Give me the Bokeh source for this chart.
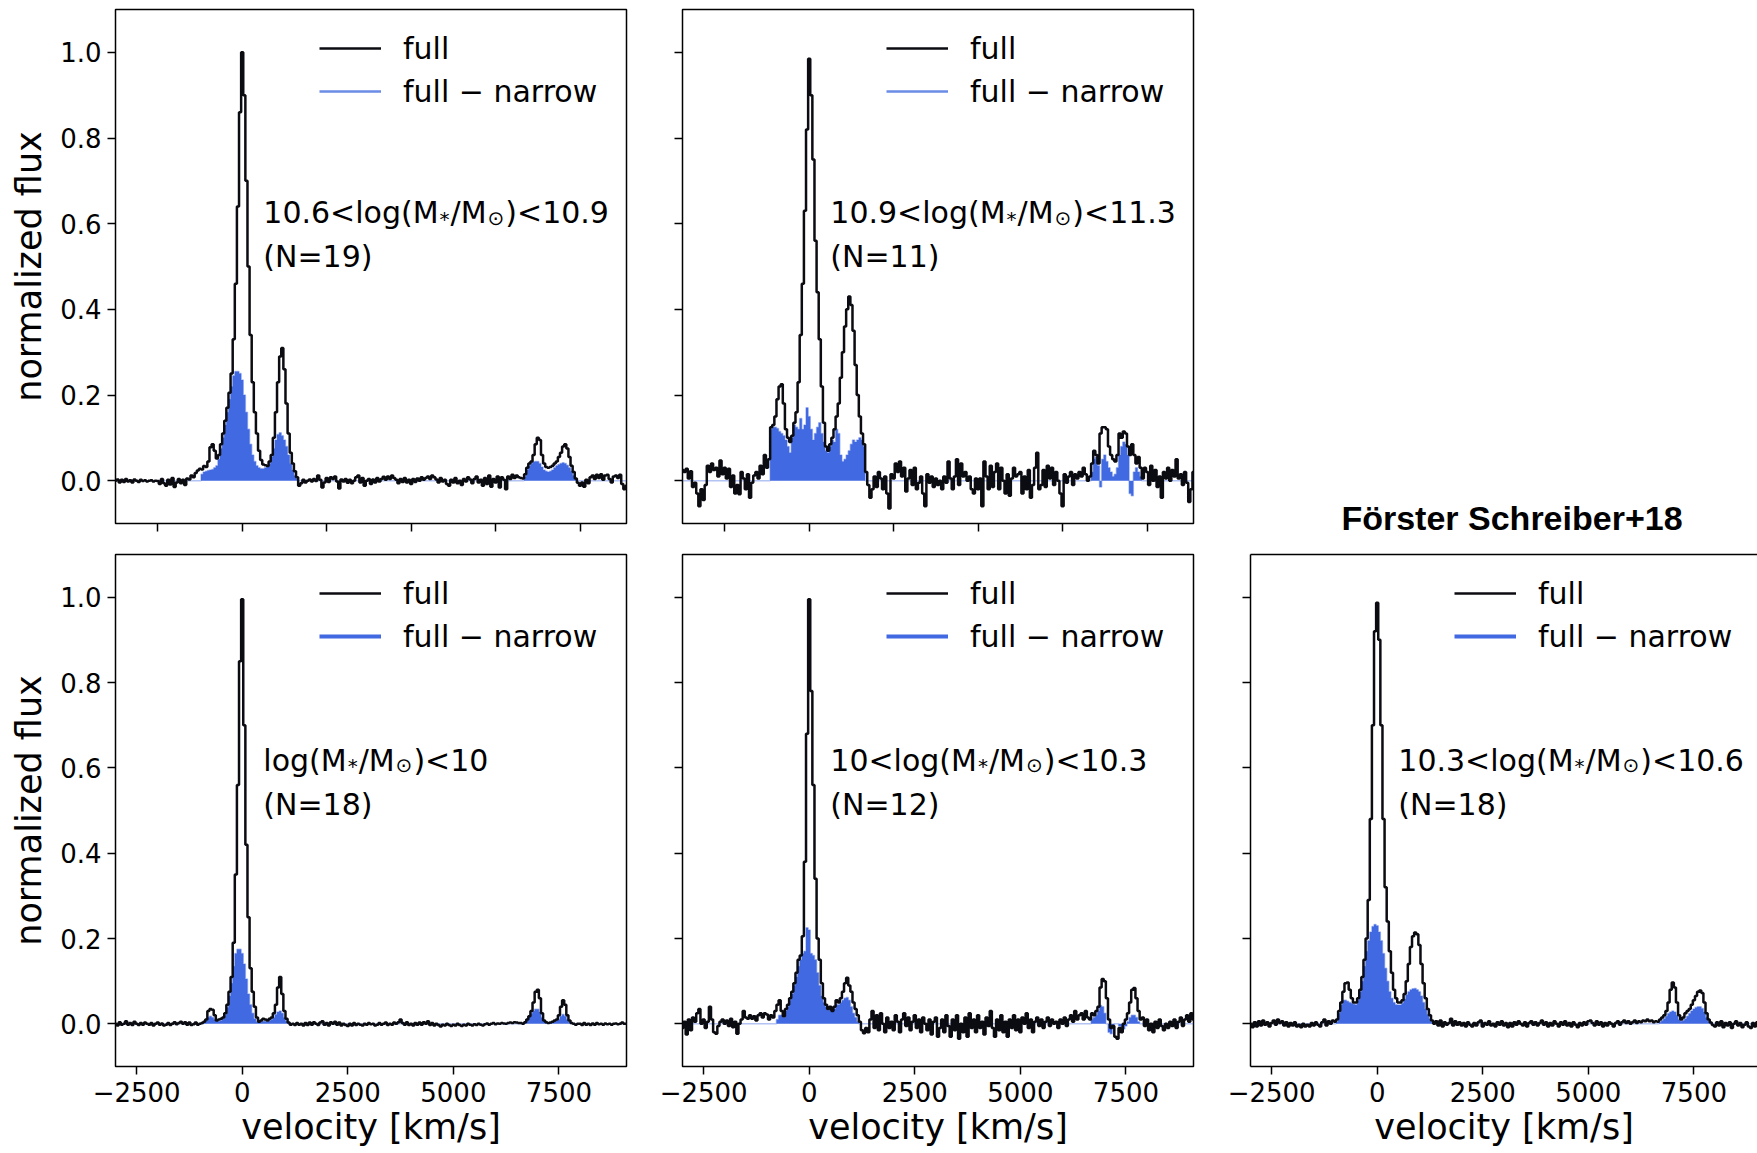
from bokeh.plotting import figure
from bokeh.models import (Range1d, FixedTicker, PrintfTickFormatter, CustomJSTickFormatter,
                          Legend, LegendItem, LinearAxis, Div, ColumnDataSource)
from bokeh.layouts import column, row
from bokeh.embed import file_html
from bokeh.resources import INLINE
from bokeh.core.properties import value

# ---------------- data ----------------
VELOCITY = list(range(-3000, 9101, 50))          # km/s, 243 bins
MAIN_START = -950                                  # first bin of the Halpha+[NII] window
FAR_START = 6650                                   # first bin of the [SII] window

XTICKS_TOP = [-2000, 0, 2000, 4000, 6000, 8000]
XTICKS_BOTTOM = [-2500, 0, 2500, 5000, 7500]
YTICKS = [0.0, 0.2, 0.4, 0.6, 0.8, 1.0]

# ---- panel 1 : 10.6<log(M*/Msun)<10.9 (N=19)
P1_FULL = [
    0.000, 0.003, -0.004, 0.002, -0.003, 0.004, -0.002, 0.001, -0.004, 0.003,
    0.000, -0.003, 0.002, -0.001, 0.001, -0.002, 0.000, 0.001, -0.002, 0.000,
    -0.001, -0.008, 0.004, -0.006, -0.012, 0.002, -0.009, 0.006, -0.015, -0.004,
    0.004, -0.006, 0.002, -0.010, 0.005, 0.003, 0.012, 0.008, 0.018, 0.024,
    0.028,
    0.026, 0.034, 0.032, 0.045, 0.078, 0.085, 0.070, 0.052, 0.060, 0.085,
    0.110, 0.140, 0.170, 0.205, 0.250, 0.330, 0.460, 0.640, 0.860, 1.000,
    0.900, 0.700, 0.500, 0.340, 0.230, 0.160, 0.110, 0.070, 0.048, 0.038,
    0.036, 0.034, 0.045, 0.060, 0.100, 0.160, 0.230, 0.290, 0.310, 0.260,
    0.180, 0.110, 0.065, 0.040, 0.022, 0.008, -0.012,
    -0.006, 0.002, -0.004, 0.000, 0.003, -0.002, 0.004, -0.001, 0.012, 0.002,
    -0.016, -0.004, 0.006, -0.003, 0.008, 0.004, 0.010, -0.002, -0.018, 0.003,
    -0.002, 0.004, -0.005, 0.002, -0.006, 0.000, 0.008, 0.012, -0.004, 0.006,
    -0.012, 0.000, 0.004, -0.008, 0.003, -0.004, 0.006, -0.002, 0.004, 0.009,
    0.002, 0.010, 0.004, 0.012, 0.006, 0.002, -0.006, 0.004, -0.003, 0.006,
    -0.004, 0.002, -0.008, 0.004, -0.003, 0.005, 0.000, 0.008, 0.002, 0.006,
    0.010, 0.004, 0.012, 0.008, 0.003, -0.004, 0.006, -0.002, 0.002, -0.008,
    -0.012, 0.002, -0.004, 0.006, -0.006, 0.000, -0.010, 0.004, -0.002, 0.008,
    0.003, -0.006, 0.004, 0.010, -0.004, 0.002, -0.012, 0.006, -0.008, 0.012,
    -0.014, 0.004, -0.004, 0.010, -0.016, 0.008, 0.002, -0.020, 0.010, 0.004,
    0.014, 0.006, 0.012, 0.008, 0.006,
    0.005, 0.015, 0.030, 0.040, 0.045, 0.060, 0.085, 0.100, 0.095, 0.060,
    0.040, 0.032, 0.030, 0.032, 0.035, 0.040, 0.045, 0.055, 0.065, 0.080,
    0.085, 0.075, 0.055, 0.035, 0.020, 0.005, -0.005,
    -0.012, -0.004, -0.014, 0.002, -0.006, 0.008, 0.012, 0.004, 0.014, 0.006,
    0.015, 0.002, 0.012, 0.014, 0.004, -0.004, 0.010, 0.012, 0.006, 0.014,
    -0.008, -0.020, -0.012,
]
P1_DIFF_MAIN = [
    0.015, 0.020, 0.022, 0.024, 0.025, 0.026, 0.030, 0.035, 0.050, 0.075,
    0.100, 0.130, 0.160, 0.190, 0.220, 0.245, 0.255, 0.255, 0.250, 0.235,
    0.200, 0.160, 0.120, 0.085, 0.060, 0.045, 0.035, 0.030, 0.028, 0.028,
    0.030, 0.032, 0.040, 0.055, 0.075, 0.095, 0.108, 0.112, 0.105, 0.095,
    0.080, 0.060, 0.040, 0.025, 0.012, 0.004, 0.000,
]
P1_DIFF_FAR = [
    0.000, 0.010, 0.025, 0.035, 0.040, 0.044, 0.045, 0.045, 0.040, 0.032,
    0.025, 0.022, 0.020, 0.022, 0.025, 0.030, 0.035, 0.038, 0.040, 0.042,
    0.040, 0.036, 0.030, 0.022, 0.012, 0.004, 0.000,
]

# ---- panel 2 : 10.9<log(M*/Msun)<11.3 (N=11)
P2_FULL = [
    0.025, 0.020, 0.028, 0.005, 0.022, -0.015, -0.005, -0.030, -0.060, -0.020,
    -0.045, -0.010, 0.035, 0.020, 0.040, 0.025, 0.030, 0.010, 0.047, 0.015,
    0.030, 0.005, 0.028, -0.015, 0.012, -0.030, -0.010, -0.032, 0.020, 0.005,
    -0.020, 0.015, -0.040, -0.005, 0.012, 0.020, 0.005, 0.035, 0.015, 0.060,
    0.030,
    0.050, 0.125, 0.130, 0.150, 0.190, 0.220, 0.225, 0.180, 0.120, 0.100,
    0.090, 0.105, 0.135, 0.160, 0.230, 0.340, 0.460, 0.630, 0.820, 0.985,
    0.900, 0.750, 0.560, 0.440, 0.330, 0.220, 0.135, 0.080, 0.070, 0.085,
    0.100, 0.120, 0.150, 0.180, 0.240, 0.300, 0.360, 0.400, 0.430, 0.410,
    0.350, 0.270, 0.200, 0.150, 0.110, 0.085, 0.020,
    -0.010, -0.040, -0.020, 0.010, -0.015, 0.020, 0.005, -0.020, 0.010, -0.030,
    -0.065, 0.015, 0.005, 0.040, 0.020, 0.045, 0.010, 0.030, -0.025, 0.005,
    0.025, -0.010, 0.030, -0.020, -0.005, 0.010, -0.030, -0.060, 0.015, -0.005,
    0.010, -0.015, 0.005, -0.010, 0.000, -0.020, 0.010, -0.005, 0.045, 0.005,
    -0.020, 0.010, 0.050, -0.010, 0.040, 0.010, 0.020, 0.000, 0.010, -0.020,
    -0.030, 0.005, -0.020, 0.005, -0.060, 0.045, 0.010, -0.020, 0.035, -0.015,
    0.020, 0.040, -0.020, 0.030, 0.000, -0.030, 0.015, -0.035, 0.005, 0.030,
    0.010, 0.015, 0.020, -0.030, 0.010, -0.020, 0.025, -0.040, -0.010, 0.030,
    0.065, -0.020, -0.010, 0.025, -0.015, 0.035, 0.005, 0.030, -0.010, 0.020,
    0.000, -0.030, -0.060, 0.015, -0.005, 0.010, 0.020, -0.010, 0.015, 0.005,
    0.020, 0.010, 0.030, 0.015, 0.000,
    0.010, 0.040, 0.070, 0.060, 0.040, 0.110, 0.125, 0.125, 0.120, 0.080,
    0.060, 0.050, 0.045, 0.060, 0.110, 0.100, 0.115, 0.110, 0.080, 0.060,
    0.085, 0.060, 0.040, 0.055, 0.030, 0.005, 0.030,
    0.020, -0.010, 0.035, 0.000, 0.025, -0.015, 0.010, -0.040, 0.020, 0.005,
    0.030, 0.000, 0.025, 0.010, 0.050, 0.005, 0.015, -0.010, 0.020, -0.005,
    -0.050, -0.020, 0.020,
]
P2_DIFF_MAIN = [
    0.000, 0.120, 0.125, 0.125, 0.122, 0.115, 0.110, 0.105, 0.095, 0.080,
    0.065, 0.100, 0.130, 0.125, 0.120, 0.145, 0.120, 0.130, 0.170, 0.150,
    0.120, 0.095, 0.110, 0.125, 0.135, 0.110, 0.090, 0.070, 0.065, 0.080,
    0.095, 0.090, 0.120, 0.110, 0.060, 0.045, 0.050, 0.060, 0.070, 0.085,
    0.095, 0.090, 0.095, 0.100, 0.095, 0.080, 0.000,
]
P2_DIFF_FAR = [
    0.000, 0.020, 0.050, 0.055, 0.035, -0.015, 0.050, 0.060, 0.045, 0.030,
    0.020, 0.010, 0.015, 0.030, 0.060, 0.080, 0.090, 0.085, 0.060, -0.030,
    -0.035, 0.020, 0.030, 0.020, 0.010, 0.000, 0.000,
]

# ---- panel 3 : log(M*/Msun)<10 (N=18)
P3_FULL = [
    0.000, -0.004, 0.004, -0.002, 0.000, 0.006, -0.002, 0.002, -0.003, 0.005,
    0.000, -0.003, 0.002, -0.002, 0.003, 0.000, -0.002, 0.002, -0.004, 0.000,
    0.003, -0.002, 0.001, -0.004, -0.002, 0.002, -0.003, 0.000, 0.004, -0.001,
    0.002, 0.005, 0.000, 0.004, -0.002, 0.003, -0.003, -0.001, 0.003, -0.002,
    0.000,
    0.002, 0.005, 0.010, 0.030, 0.035, 0.033, 0.020, 0.008, 0.010, 0.012,
    0.015, 0.025, 0.045, 0.075, 0.110, 0.190, 0.350, 0.560, 0.850, 0.995,
    0.700, 0.420, 0.250, 0.130, 0.075, 0.040, 0.015, 0.005, 0.008, 0.012,
    0.010, 0.008, 0.012, 0.015, 0.025, 0.045, 0.085, 0.110, 0.070, 0.030,
    0.012, 0.003, -0.002, 0.000, -0.003, 0.002, -0.002,
    0.000, -0.004, 0.002, -0.003, 0.003, -0.002, 0.004, 0.000, -0.003, 0.003,
    0.006, -0.002, 0.002, -0.004, 0.004, 0.000, 0.005, -0.002, 0.003, -0.004,
    0.000, -0.003, -0.005, 0.000, -0.004, 0.002, -0.003, 0.000, -0.002, -0.004,
    0.000, -0.002, 0.002, -0.001, 0.000, -0.004, -0.002, 0.002, -0.002, 0.000,
    0.003, -0.003, 0.000, -0.002, 0.003, 0.000, 0.004, 0.010, 0.002, -0.002,
    0.004, -0.003, 0.000, -0.004, 0.002, -0.002, 0.003, -0.002, 0.004, 0.000,
    0.006, -0.003, 0.002, -0.004, 0.000, -0.003, -0.006, -0.002, -0.004, 0.000,
    -0.003, -0.005, -0.002, -0.004, 0.000, -0.003, -0.005, -0.002, -0.004, 0.000,
    -0.002, -0.004, -0.001, -0.003, 0.000, -0.002, -0.004, -0.001, 0.001, -0.002,
    0.000, 0.002, -0.001, 0.001, 0.000, 0.002, 0.001, 0.000, 0.002, 0.003,
    0.002, 0.004, 0.003, 0.002, 0.002,
    0.000, 0.004, 0.010, 0.018, 0.030, 0.050, 0.075, 0.080, 0.060, 0.025,
    0.008, 0.004, 0.002, 0.003, 0.005, 0.008, 0.010, 0.020, 0.040, 0.055,
    0.045, 0.020, 0.008, 0.002, 0.000, -0.002, 0.000,
    0.000, -0.003, 0.002, -0.002, 0.000, -0.003, 0.001, -0.002, 0.002, -0.001,
    0.000, -0.002, 0.001, -0.001, 0.000, -0.002, 0.000, 0.001, -0.001, 0.000,
    0.003, 0.000, 0.000,
]
P3_DIFF_MAIN = [
    0.000, 0.003, 0.008, 0.015, 0.018, 0.015, 0.010, 0.006, 0.006, 0.008,
    0.012, 0.020, 0.038, 0.065, 0.095, 0.135, 0.165, 0.175, 0.175, 0.165,
    0.140, 0.105, 0.070, 0.045, 0.025, 0.012, 0.005, 0.003, 0.005, 0.006,
    0.006, 0.005, 0.008, 0.010, 0.015, 0.022, 0.028, 0.030, 0.025, 0.015,
    0.006, 0.002, 0.000, 0.000, 0.000, 0.000, 0.000,
]
P3_DIFF_FAR = [
    0.000, 0.004, 0.010, 0.016, 0.024, 0.030, 0.034, 0.034, 0.028, 0.015,
    0.006, 0.003, 0.002, 0.002, 0.004, 0.006, 0.008, 0.010, 0.018, 0.022,
    0.018, 0.010, 0.004, 0.000, 0.000, 0.000, 0.000,
]

# ---- panel 4 : 10<log(M*/Msun)<10.3 (N=12)
P4_FULL = [
    -0.010, 0.005, -0.025, 0.010, -0.015, 0.015, 0.005, 0.025, 0.035, 0.000,
    0.010, -0.010, 0.005, 0.040, 0.010, -0.020, -0.023, -0.005, 0.005, 0.010,
    0.000, 0.008, -0.005, 0.012, -0.008, 0.005, -0.023, 0.000, 0.010, 0.030,
    0.015, 0.012, 0.020, 0.012, 0.018, 0.008, 0.020, 0.025, 0.015, 0.025,
    0.022,
    0.010, 0.020, 0.015, 0.030, 0.045, 0.055, 0.030, 0.018, 0.035, 0.045,
    0.060, 0.075, 0.095, 0.120, 0.150, 0.160, 0.205, 0.380, 0.680, 0.995,
    0.780, 0.560, 0.340, 0.200, 0.150, 0.095, 0.060, 0.045, 0.035, 0.040,
    0.030, 0.040, 0.055, 0.050, 0.060, 0.075, 0.095, 0.108, 0.090, 0.075,
    0.050, 0.035, 0.020, 0.005, -0.015, -0.022, -0.010,
    -0.020, 0.010, 0.030, -0.010, 0.020, -0.015, 0.025, 0.000, -0.020, 0.015,
    -0.010, 0.005, -0.015, 0.020, 0.005, -0.020, 0.010, 0.025, -0.005, 0.015,
    -0.015, 0.005, 0.020, -0.010, 0.010, -0.020, 0.015, 0.000, -0.015, 0.010,
    -0.025, 0.005, 0.015, -0.030, -0.010, 0.010, -0.020, 0.020, -0.005, -0.030,
    0.010, -0.015, 0.020, -0.035, 0.000, -0.020, 0.015, -0.030, 0.025, -0.010,
    0.010, -0.020, 0.020, -0.010, 0.005, -0.025, 0.015, -0.005, 0.030, -0.010,
    -0.030, 0.010, -0.015, 0.020, -0.020, 0.005, -0.030, 0.010, -0.010, 0.020,
    -0.015, 0.010, -0.020, 0.015, 0.000, 0.025, -0.010, 0.010, -0.020, 0.005,
    0.015, -0.005, 0.010, -0.010, 0.005, 0.015, -0.005, 0.010, 0.000, 0.005,
    -0.010, 0.010, 0.000, 0.015, -0.005, 0.010, 0.020, 0.005, 0.030, 0.010,
    0.020, 0.025, 0.010, 0.030, 0.015,
    0.010, 0.025, 0.020, 0.030, 0.040, 0.085, 0.105, 0.100, 0.060, 0.010,
    -0.010, -0.005, -0.030, -0.035, -0.010, -0.020, 0.000, 0.010, 0.025, 0.050,
    0.080, 0.084, 0.060, 0.030, 0.010, 0.015, -0.005,
    0.010, -0.015, 0.000, -0.020, 0.005, -0.010, 0.010, -0.005, -0.015, 0.000,
    -0.010, 0.005, -0.005, 0.010, -0.010, 0.005, 0.015, -0.005, 0.010, 0.020,
    0.005, 0.025, 0.010,
]
P4_DIFF_MAIN = [
    0.000, 0.000, 0.000, 0.000, 0.010, 0.020, 0.020, 0.015, 0.030, 0.040,
    0.055, 0.070, 0.090, 0.110, 0.135, 0.150, 0.165, 0.170, 0.225, 0.220,
    0.165, 0.160, 0.150, 0.120, 0.090, 0.065, 0.050, 0.040, 0.032, 0.035,
    0.028, 0.035, 0.045, 0.045, 0.050, 0.055, 0.060, 0.062, 0.055, 0.040,
    0.025, 0.015, 0.005, 0.000, 0.000, 0.000, 0.000,
]
P4_DIFF_FAR = [
    0.000, 0.010, 0.015, 0.020, 0.030, 0.043, 0.040, 0.025, 0.000, -0.020,
    -0.023, -0.010, 0.000, 0.000, -0.005, -0.010, -0.012, -0.005, 0.005, 0.015,
    0.020, 0.020, 0.015, 0.005, 0.000, 0.000, 0.000,
]

# ---- panel 5 : 10.3<log(M*/Msun)<10.6 (N=18), Foerster Schreiber+18
P5_FULL = [
    0.000, -0.008, 0.004, -0.006, 0.006, -0.004, 0.008, -0.002, 0.004, -0.006,
    0.002, 0.008, -0.002, 0.010, 0.002, 0.006, -0.004, 0.004, -0.006, 0.002,
    -0.004, 0.004, -0.006, -0.002, -0.008, 0.000, -0.006, -0.002, -0.006, 0.002,
    -0.004, 0.004, -0.002, -0.006, 0.004, 0.010, -0.004, 0.006, 0.000, 0.008,
    0.005,
    0.010, 0.030, 0.050, 0.075, 0.095, 0.097, 0.080, 0.060, 0.050, 0.050,
    0.060, 0.080, 0.110, 0.150, 0.200, 0.290, 0.480, 0.700, 0.920, 0.987,
    0.900, 0.700, 0.480, 0.320, 0.240, 0.170, 0.120, 0.080, 0.060, 0.050,
    0.050, 0.055, 0.070, 0.100, 0.140, 0.180, 0.205, 0.214, 0.210, 0.185,
    0.140, 0.095, 0.060, 0.035, 0.020, 0.008, 0.000,
    0.006, -0.004, 0.008, -0.006, 0.004, -0.002, 0.002, 0.012, -0.004, 0.006,
    -0.002, 0.004, -0.004, 0.002, -0.006, 0.004, -0.002, -0.006, 0.002, -0.004,
    0.004, 0.008, -0.006, 0.002, -0.002, 0.006, -0.004, 0.000, -0.006, 0.004,
    -0.002, 0.006, -0.004, 0.002, -0.008, 0.002, -0.006, 0.004, -0.002, 0.006,
    0.000, -0.004, 0.004, -0.006, 0.002, 0.006, -0.002, 0.004, -0.004, 0.002,
    0.008, -0.002, 0.004, -0.006, 0.002, -0.004, 0.006, 0.000, -0.006, 0.004,
    -0.002, 0.006, -0.004, 0.002, -0.006, 0.004, -0.002, -0.008, 0.002, -0.004,
    0.004, -0.002, 0.006, 0.008, 0.002, -0.004, 0.006, -0.002, 0.004, -0.006,
    0.002, -0.004, 0.004, 0.000, -0.006, 0.002, 0.006, -0.002, 0.004, 0.008,
    0.002, 0.006, 0.000, 0.004, 0.008, 0.002, 0.006, 0.004, 0.008, 0.006,
    0.010, 0.006, 0.008, 0.004, 0.006,
    0.005, 0.010, 0.015, 0.020, 0.030, 0.050, 0.080, 0.097, 0.085, 0.050,
    0.020, 0.010, 0.015, 0.025, 0.030, 0.035, 0.045, 0.055, 0.065, 0.075,
    0.078, 0.072, 0.050, 0.025, 0.010, 0.003, -0.003,
    -0.006, 0.004, -0.004, 0.006, -0.008, 0.002, -0.004, 0.004, -0.010, 0.000,
    0.006, -0.004, 0.002, -0.008, -0.002, 0.004, -0.006, -0.010, 0.002, -0.006,
    0.004, -0.004, 0.000,
]
P5_DIFF_MAIN = [
    0.005, 0.025, 0.045, 0.055, 0.055, 0.053, 0.050, 0.048, 0.046, 0.045,
    0.055, 0.075, 0.100, 0.135, 0.170, 0.195, 0.215, 0.228, 0.233, 0.230,
    0.215, 0.195, 0.165, 0.130, 0.100, 0.075, 0.060, 0.050, 0.045, 0.044,
    0.044, 0.048, 0.058, 0.068, 0.075, 0.080, 0.082, 0.083, 0.080, 0.075,
    0.065, 0.050, 0.035, 0.022, 0.012, 0.004, 0.000,
]
P5_DIFF_FAR = [
    0.000, 0.004, 0.008, 0.012, 0.018, 0.024, 0.028, 0.030, 0.028, 0.020,
    0.010, 0.006, 0.008, 0.012, 0.018, 0.024, 0.030, 0.035, 0.038, 0.040,
    0.040, 0.036, 0.028, 0.015, 0.006, 0.001, 0.000,
]

# text
LEGEND_LABELS = ["full", "full \u2212 narrow"]
MASS_LABELS = {
    "p1": ("10.6<log(M", ")<10.9", "(N=19)"),
    "p2": ("10.9<log(M", ")<11.3", "(N=11)"),
    "p3": ("log(M", ")<10", "(N=18)"),
    "p4": ("10<log(M", ")<10.3", "(N=12)"),
    "p5": ("10.3<log(M", ")<10.6", "(N=18)"),
}
TITLE = "F\u00f6rster Schreiber+18"
X_LABEL = "velocity [km/s]"
Y_LABEL = "normalized flux"

# ---------------- styling / helpers ----------------
FILL_BLUE = "#4169E1"
FONT = "DejaVu Sans"
MAIN_PX, SUB_PX = 30, 20
CHAR_W = {c: 0.6362 for c in "0123456789"}
CHAR_W.update({".": 0.3179, "<": 0.8379, "l": 0.2778, "o": 0.6118, "g": 0.6348,
               "(": 0.3901, ")": 0.3901, "M": 0.8628, "/": 0.3369, "*": 0.5,
               "\u2299": 0.8379})


def text_w(s, px):
    return sum(CHAR_W.get(c, 0.6) for c in s) * px


def diff_series(main, far):
    d = [0.0] * len(VELOCITY)
    i0 = VELOCITY.index(MAIN_START)
    j0 = VELOCITY.index(FAR_START)
    d[i0:i0 + len(main)] = main
    d[j0:j0 + len(far)] = far
    return d


def style_axis(ax):
    ax.axis_line_color = None
    ax.major_tick_line_color = "black"
    ax.major_tick_line_width = 1.5
    ax.major_tick_out = 8
    ax.major_tick_in = 0
    ax.minor_tick_line_color = None
    ax.major_label_text_font = FONT
    ax.major_label_text_font_size = "26px"
    ax.major_label_text_color = "black"
    ax.axis_label_text_font = FONT
    ax.axis_label_text_font_size = "35px"
    ax.axis_label_text_font_style = "normal"
    ax.axis_label_text_color = "black"


def hide_labels(ax):
    ax.formatter = CustomJSTickFormatter(code="return ''")
    ax.major_label_text_font_size = "1px"
    ax.major_label_standoff = 0


def make_panel(full, dmain, dfar, key, *, width, height, bl, br, bt, bb, frame_h,
               x_end, left_labels, bottom_row, legend_style, text_y, open_right=False):
    p = figure(width=width, height=height, x_range=Range1d(-3000, x_end),
               y_range=Range1d(-0.1, 1.1), toolbar_location=None, output_backend="svg",
               min_border_left=bl, min_border_right=br, min_border_top=bt,
               min_border_bottom=bb, background_fill_color="white",
               border_fill_color="white")
    p.grid.visible = False
    if open_right:
        p.outline_line_color = None
    else:
        p.outline_line_color = "black"
        p.outline_line_width = 1.5
        p.outline_line_alpha = 1.0

    xax = p.below[0]
    yax = p.left[0]
    style_axis(xax)
    style_axis(yax)

    yax.ticker = FixedTicker(ticks=YTICKS)
    if left_labels:
        yax.formatter = PrintfTickFormatter(format="%.1f")
        yax.major_label_standoff = 6
        yax.axis_label = Y_LABEL
        yax.axis_label_standoff = 8
    else:
        hide_labels(yax)

    if bottom_row:
        xax.ticker = FixedTicker(ticks=XTICKS_BOTTOM)
        xax.major_label_overrides = {-2500: "\u22122500"}
        xax.major_label_standoff = 7
        xax.axis_label = X_LABEL
        xax.axis_label_standoff = 2
    else:
        xax.ticker = FixedTicker(ticks=XTICKS_TOP)
        hide_labels(xax)

    if open_right:
        xax.axis_line_color = "black"
        xax.axis_line_width = 1.5
        yax.axis_line_color = "black"
        yax.axis_line_width = 1.5
        top = LinearAxis(ticker=FixedTicker(ticks=[]), axis_line_color="black",
                         axis_line_width=1.5, major_tick_line_color=None,
                         minor_tick_line_color=None, axis_label=None)
        hide_labels(top)
        p.add_layout(top, "above")

    src = ColumnDataSource(dict(v=VELOCITY, f=full, d=diff_series(dmain, dfar)))
    p.varea_step(x="v", y1=0, y2="d", step_mode="center", source=src,
                 fill_color=FILL_BLUE, fill_alpha=1.0)
    p.step(x="v", y="d", mode="center", source=src, line_color=FILL_BLUE,
           line_alpha=0.4, line_width=1.5)
    black = p.step(x="v", y="f", mode="center", source=src, line_color="#0b0b12",
                   line_width=2.5)
    lcol, lw = legend_style
    # one-point line: draws nothing in the frame, only provides the legend swatch
    swatch = p.line(x=[VELOCITY[0]], y=[full[0]], line_color=lcol, line_width=lw)

    leg = Legend(items=[LegendItem(label=LEGEND_LABELS[0], renderers=[black]),
                        LegendItem(label=LEGEND_LABELS[1], renderers=[swatch])],
                 location=(204, frame_h - 102), orientation="vertical",
                 label_text_font=FONT, label_text_font_size="30px",
                 label_text_color="black", glyph_width=62, glyph_height=40,
                 label_height=40, spacing=3, padding=0, margin=0, label_standoff=22,
                 border_line_color=None, background_fill_alpha=0)
    p.add_layout(leg)

    # mass-bin annotation with subscripts
    pre, post, ntext = MASS_LABELS[key]
    y1, y2 = text_y
    x0 = 0.0
    mt, mx, st, sx, sy = [], [], [], [], []
    mt.append(pre); mx.append(0.0); x0 += text_w(pre, MAIN_PX)
    st.append("*"); sx.append(x0 + 1); sy.append(6); x0 += text_w("*", SUB_PX) + 2
    mt.append("/M"); mx.append(x0); x0 += text_w("/M", MAIN_PX)
    st.append("\u2299"); sx.append(x0 + 1); sy.append(5); x0 += text_w("\u2299", SUB_PX) + 2
    mt.append(post); mx.append(x0)
    mt.append(ntext); mx.append(0.0)
    my = [y1, y1, y1, y2]
    msrc = ColumnDataSource(dict(x=[500] * 4, y=my, t=mt, xo=mx, yo=[0] * 4))
    ssrc = ColumnDataSource(dict(x=[500] * 2, y=[y1] * 2, t=st, xo=sx, yo=sy))
    p.text(x="x", y="y", text="t", x_offset="xo", y_offset="yo", source=msrc,
           text_font=value(FONT), text_font_size=value(f"{MAIN_PX}px"),
           text_color="black", text_align="left", text_baseline="alphabetic")
    p.text(x="x", y="y", text="t", x_offset="xo", y_offset="yo", source=ssrc,
           text_font=value(FONT), text_font_size=value(f"{SUB_PX}px"),
           text_color="black", text_align="left", text_baseline="alphabetic")
    return p


TOP_LEG = ("#6A8BE6", 2.5)
BOT_LEG = (FILL_BLUE, 4)
TOP_TEXT_Y = (0.626, 0.523)
BOT_TEXT_Y = (0.618, 0.515)

p1 = make_panel(P1_FULL, P1_DIFF_MAIN, P1_DIFF_FAR, "p1", width=653, height=539,
                bl=115, br=27, bt=9, bb=16, frame_h=514, x_end=9100,
                left_labels=True, bottom_row=False, legend_style=TOP_LEG,
                text_y=TOP_TEXT_Y)
p2 = make_panel(P2_FULL, P2_DIFF_MAIN, P2_DIFF_FAR, "p2", width=569, height=539,
                bl=29, br=29, bt=9, bb=16, frame_h=514, x_end=9100,
                left_labels=False, bottom_row=False, legend_style=TOP_LEG,
                text_y=TOP_TEXT_Y)

title_html = (
    '<div style="margin:0;padding:0;padding-top:497px;width:580px;text-align:center;'
    "font-family:'Liberation Sans',Arial,sans-serif;font-weight:bold;font-size:34px;"
    'line-height:42px;color:black;white-space:nowrap;">' + TITLE + '</div>'
)
pt = Div(text=title_html, width=535, height=539, margin=0)

p4 = make_panel(P3_FULL, P3_DIFF_MAIN, P3_DIFF_FAR, "p3", width=653, height=614,
                bl=115, br=27, bt=15, bb=87, frame_h=512, x_end=9100,
                left_labels=True, bottom_row=True, legend_style=BOT_LEG,
                text_y=BOT_TEXT_Y)
p5 = make_panel(P4_FULL, P4_DIFF_MAIN, P4_DIFF_FAR, "p4", width=569, height=614,
                bl=29, br=29, bt=15, bb=87, frame_h=512, x_end=9100,
                left_labels=False, bottom_row=True, legend_style=BOT_LEG,
                text_y=BOT_TEXT_Y)
p6 = make_panel(P5_FULL, P5_DIFF_MAIN, P5_DIFF_FAR, "p5", width=535, height=614,
                bl=28, br=0, bt=15, bb=87, frame_h=512, x_end=9006,
                left_labels=False, bottom_row=True, legend_style=BOT_LEG,
                text_y=BOT_TEXT_Y, open_right=True)

layout = column(row(p1, p2, pt), row(p4, p5, p6))

with open("out.html", "w") as fh:
    fh.write(file_html(layout, INLINE))
